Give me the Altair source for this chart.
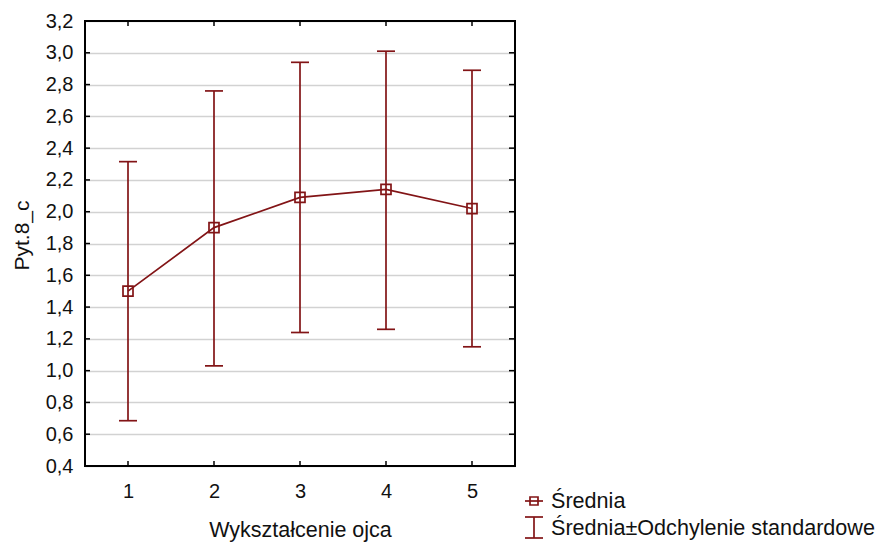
import altair as alt
import pandas as pd

# ---- data ----
categories = [1, 2, 3, 4, 5]
means = [1.50, 1.90, 2.09, 2.14, 2.02]
sd_low = [0.685, 1.03, 1.24, 1.26, 1.15]
sd_high = [2.315, 2.76, 2.94, 3.01, 2.89]
y_ticks = [0.4, 0.6, 0.8, 1.0, 1.2, 1.4, 1.6, 1.8, 2.0, 2.2, 2.4, 2.6, 2.8, 3.0, 3.2]
x_title = "Wykształcenie ojca"
y_title = "Pyt.8_c"
legend_labels = ["Średnia", "Średnia±Odchylenie standardowe"]

RED = "#821416"
FONT = "Liberation Sans"
W, H = 430, 445
SW = 1.7

df = pd.DataFrame({"cat": categories, "mean": means, "low": sd_low, "high": sd_high})
xt = pd.DataFrame({"v": categories})
yt = pd.DataFrame({"v": y_ticks})

xscale = alt.Scale(domain=[0.5, 5.5], nice=False, zero=False)
yscale = alt.Scale(domain=[0.4, 3.2], nice=False, zero=False)

xaxis = alt.Axis(
    title=x_title, values=categories, grid=False, domain=False, ticks=False, tickSize=0,
    labelFontSize=20, labelPadding=15, titleFontSize=21.5, titleY=70,
    titleBaseline="alphabetic", format="d", titleFontWeight="normal",
    labelFont=FONT, titleFont=FONT, labelColor="#111111", titleColor="#111111",
)
yaxis = alt.Axis(
    title=y_title, values=y_ticks, grid=True, gridColor="#d2d2d2", gridWidth=1.6,
    domain=False, ticks=False, tickSize=0, labelFontSize=20, labelPadding=12,
    labelExpr="replace(format(datum.value, '.1f'), '.', ',')",
    titleFontSize=21, titleX=-53, titleY=214, titleBaseline="bottom",
    titleFontWeight="normal",
    labelFont=FONT, titleFont=FONT, labelColor="#111111", titleColor="#111111",
)

X = alt.X("cat:Q", scale=xscale, axis=xaxis)

base = alt.Chart(df)
err = base.mark_rule(color=RED, strokeWidth=SW).encode(
    x=X, y=alt.Y("low:Q", scale=yscale, axis=yaxis), y2="high:Q")
cap_hi = base.mark_tick(color=RED, orient="horizontal", size=18, thickness=SW, opacity=1).encode(
    x=X, y=alt.Y("high:Q", scale=yscale, axis=yaxis))
cap_lo = base.mark_tick(color=RED, orient="horizontal", size=18, thickness=SW, opacity=1).encode(
    x=X, y=alt.Y("low:Q", scale=yscale, axis=yaxis))
line = base.mark_line(color=RED, strokeWidth=SW).encode(
    x=X, y=alt.Y("mean:Q", scale=yscale, axis=yaxis))
pts = base.mark_point(shape="square", size=100, filled=False, color=RED, strokeWidth=SW,
                      opacity=1).encode(
    x=X, y=alt.Y("mean:Q", scale=yscale, axis=yaxis))

# frame and inward ticks
tick_col = "black"
frame = alt.Chart(pd.DataFrame({"k": [0]})).mark_rect(
    fill=None, stroke="black", strokeWidth=2).encode(
    x=alt.value(0), x2=alt.value(W), y=alt.value(0), y2=alt.value(H))
top_t = alt.Chart(xt).mark_rule(color=tick_col, strokeWidth=1.5).encode(
    x=alt.X("v:Q", scale=xscale, axis=xaxis), y=alt.value(0), y2=alt.value(5))
bot_t = alt.Chart(xt).mark_rule(color=tick_col, strokeWidth=1.5).encode(
    x=alt.X("v:Q", scale=xscale, axis=xaxis), y=alt.value(H - 5), y2=alt.value(H))
left_t = alt.Chart(yt).mark_rule(color=tick_col, strokeWidth=1.5).encode(
    y=alt.Y("v:Q", scale=yscale, axis=yaxis), x=alt.value(0), x2=alt.value(5))
right_t = alt.Chart(yt).mark_rule(color=tick_col, strokeWidth=1.5).encode(
    y=alt.Y("v:Q", scale=yscale, axis=yaxis), x=alt.value(W - 6), x2=alt.value(W))

# manual legend
one = pd.DataFrame({"k": [0]})
lg_line = alt.Chart(one).mark_rule(color=RED, strokeWidth=SW).encode(
    x=alt.value(440), x2=alt.value(458), y=alt.value(480))
lg_sq = alt.Chart(one).mark_point(shape="square", size=64, filled=False, color=RED,
                                  strokeWidth=SW, opacity=1).encode(
    x=alt.value(449), y=alt.value(480))
lg_v = alt.Chart(one).mark_rule(color=RED, strokeWidth=SW).encode(
    x=alt.value(449), y=alt.value(496), y2=alt.value(517))
lg_c1 = alt.Chart(one).mark_rule(color=RED, strokeWidth=SW).encode(
    x=alt.value(440), x2=alt.value(458), y=alt.value(496))
lg_c2 = alt.Chart(one).mark_rule(color=RED, strokeWidth=SW).encode(
    x=alt.value(440), x2=alt.value(458), y=alt.value(517))
lg_t1 = alt.Chart(pd.DataFrame({"label": [legend_labels[0]]})).mark_text(
    align="left", baseline="alphabetic", fontSize=21.6, font=FONT, color="#111111").encode(
    text="label:N", x=alt.value(466), y=alt.value(487))
lg_t2 = alt.Chart(pd.DataFrame({"label": [legend_labels[1]]})).mark_text(
    align="left", baseline="alphabetic", fontSize=21.6, font=FONT, color="#111111").encode(
    text="label:N", x=alt.value(466), y=alt.value(514))

chart = alt.layer(
    err, cap_hi, cap_lo, line, pts, frame, top_t, bot_t, left_t, right_t,
    lg_line, lg_sq, lg_v, lg_c1, lg_c2, lg_t1, lg_t2,
).properties(
    width=W, height=H,
    autosize=alt.AutoSizeParams(type="none"),
    padding={"left": 85, "top": 21, "right": 364, "bottom": 76},
).configure_view(
    stroke=None
).configure(background="white")

chart.save("out.html", embed_options={"renderer": "svg", "actions": False})
